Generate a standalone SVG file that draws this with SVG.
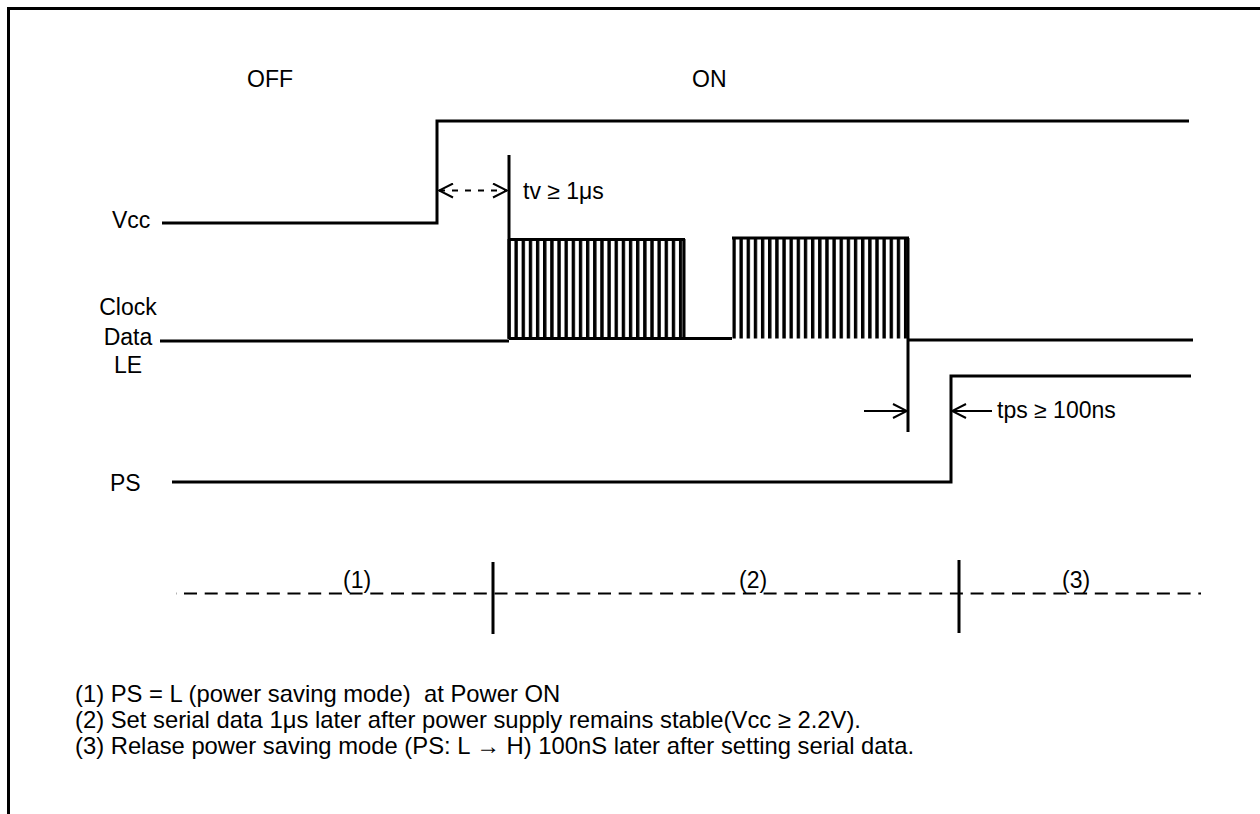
<svg xmlns="http://www.w3.org/2000/svg" width="1260" height="814" viewBox="0 0 1260 814">
<style>
  .sig { fill: none; stroke: #000; stroke-width: 3; stroke-linecap: butt; stroke-linejoin: miter; }
  .thin { fill: none; stroke: #000; stroke-width: 2; }
  .dash { fill: none; stroke: #000; stroke-width: 2; stroke-dasharray: 13 7.7; }
  .dash2 { fill: none; stroke: #000; stroke-width: 2; stroke-dasharray: 6 7; }
  .lbl { font-family: "Liberation Sans", Arial, sans-serif; font-size: 23px; fill: #000; }
  .note { font-family: "Liberation Sans", Arial, sans-serif; font-size: 23.8px; fill: #000; white-space: pre; }
</style>
<defs>
  <pattern id="clk1" patternUnits="userSpaceOnUse" x="507.3" y="0" width="7.15" height="814">
    <rect x="0" y="0" width="3.4" height="814" fill="#000"/>
  </pattern>
  <pattern id="clk2" patternUnits="userSpaceOnUse" x="732.3" y="0" width="7.15" height="814">
    <rect x="0" y="0" width="3.4" height="814" fill="#000"/>
  </pattern>
  <marker id="chev" viewBox="0 0 16 16" refX="15" refY="8" markerWidth="16" markerHeight="16" markerUnits="userSpaceOnUse" orient="auto-start-reverse">
    <path d="M1 1 L15 8 L1 15" fill="none" stroke="#000" stroke-width="2"/>
  </marker>
</defs>

<rect x="0" y="0" width="1260" height="814" fill="#fff"/>

<!-- frame -->
<g id="frame">
  <path class="sig" d="M8.5 814 V8.5 H1260"/>
</g>

<!-- state labels -->
<g id="state-off"><text class="lbl" x="247" y="87" font-size="26">OFF</text></g>
<g id="state-on"><text class="lbl" x="692" y="87" font-size="26">ON</text></g>

<!-- signal names -->
<g id="label-vcc"><text class="lbl" x="112" y="228">Vcc</text></g>
<g id="label-clk"><text class="lbl" x="128" y="315" text-anchor="middle">Clock</text>
  <text class="lbl" x="128" y="345" text-anchor="middle">Data</text>
  <text class="lbl" x="128" y="373" text-anchor="middle">LE</text></g>
<g id="label-ps"><text class="lbl" x="110" y="491">PS</text></g>

<!-- waveforms -->
<g id="wave-vcc">
  <path class="sig" d="M162 223 H437 V121 H1189"/>
</g>
<g id="wave-clk">
  <path class="sig" d="M160 341 H509"/>
  <path class="sig" d="M509 155 V339"/>
  <rect x="507.3" y="239" width="177.7" height="99.5" fill="url(#clk1)"/>
  <path class="sig" d="M508 239.5 H685 M684 239 V339"/>
  <path class="sig" d="M509 338.5 H732"/>
  <rect x="732.3" y="237.5" width="175.7" height="101" fill="url(#clk2)"/>
  <path class="sig" d="M732 238 H909"/>
  <path class="sig" d="M908 238 V432 M908 340 H1193"/>
</g>
<g id="wave-le">
  <path class="sig" d="M172 482 H951 V376 H1191"/>
</g>

<!-- timing annotations -->
<g id="connectors">
  <path class="dash2" d="M439 190.5 H507" marker-start="url(#chev)" marker-end="url(#chev)"/>
  <path class="thin" d="M864 411 H907" marker-end="url(#chev)"/>
  <path class="thin" d="M992 411 H952" marker-end="url(#chev)"/>
</g>
<g id="tv-label"><text class="lbl" x="523" y="199" font-size="24">tv ≥ 1μs</text></g>
<g id="tps-label"><text class="lbl" x="997" y="418" font-size="24">tps ≥ 100ns</text></g>

<!-- phase line -->
<g id="phases">
  <path class="dash" d="M176 593.5 H1201" stroke-dashoffset="-8"/>
  <path class="sig" d="M493 562 V634 M959 560 V633"/>
  <text class="lbl" x="343" y="588">(1)</text>
  <text class="lbl" x="739" y="588">(2)</text>
  <text class="lbl" x="1062" y="588">(3)</text>
</g>

<!-- notes -->
<g id="notes">
  <text class="note" x="75" y="702">(1) PS = L (power saving mode)  at Power ON</text>
  <text class="note" x="75" y="728">(2) Set serial data 1μs later after power supply remains stable(Vcc ≥ 2.2V).</text>
  <text class="note" x="75" y="754">(3) Relase power saving mode (PS: L → H) 100nS later after setting serial data.</text>
</g>
</svg>
